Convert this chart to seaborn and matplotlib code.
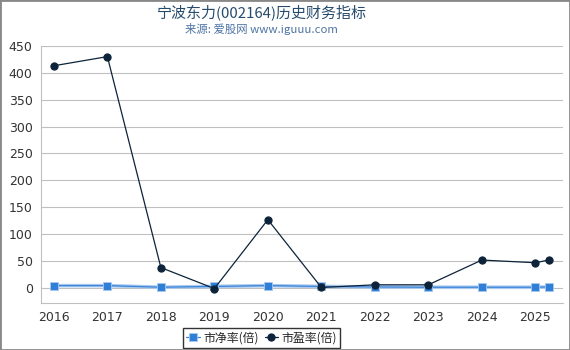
import matplotlib
matplotlib.use("Agg")
import matplotlib.pyplot as plt
import seaborn as sns
import pandas as pd

sns.set_style("white")
plt.rcParams['font.family'] = ['DejaVu Sans', 'Noto Sans CJK SC']

x_pos = [2016, 2017, 2018, 2019, 2020, 2021, 2022, 2023, 2024, 2025, 2025.25]
pb_values = [4.5, 4.5, 1.5, 3.0, 4.5, 3.0, 2.0, 1.5, 1.5, 1.5, 2.0]
pe_values = [413, 430, 38, -1, 127, 1, 6, 6, 52, 47, 52]
year_ticks = [2016, 2017, 2018, 2019, 2020, 2021, 2022, 2023, 2024, 2025]
y_ticks = [0, 50, 100, 150, 200, 250, 300, 350, 400, 450]

df = pd.DataFrame({"x": x_pos, "pb": pb_values, "pe": pe_values})

fig = plt.figure(figsize=(5.7, 3.5), dpi=100)
ax = fig.add_axes([0.072, 0.134, 0.916, 0.735])

sns.lineplot(data=df, x="x", y="pb", ax=ax, color="#a9c9ef", lw=2.6, zorder=2)
sns.lineplot(data=df, x="x", y="pb", ax=ax, color="#3a84d9", lw=0.9, marker="s",
             markersize=5.2, markeredgecolor="#a9c9ef", markeredgewidth=0.6,
             markerfacecolor="#2f7ed8", label="市净率(倍)", zorder=3)
sns.lineplot(data=df, x="x", y="pe", ax=ax, color="#0d233a", lw=0.9, marker="o",
             markersize=5.2, markeredgecolor="#0d233a", label="市盈率(倍)", zorder=4)

ax.set_xlim(2015.76, 2025.52)
ax.set_ylim(-28, 450)
ax.set_xticks(year_ticks)
ax.set_xticklabels([str(y) for y in year_ticks])
ax.set_yticks(y_ticks)
ax.set_xlabel("")
ax.set_ylabel("")
ax.grid(axis="y", color="#c0c0c0", lw=0.8)
ax.set_axisbelow(True)
for s in ["top", "right"]:
    ax.spines[s].set_visible(False)
for s in ["left", "bottom"]:
    ax.spines[s].set_color("#c0c0c0")
    ax.spines[s].set_linewidth(0.8)
ax.tick_params(axis="both", labelsize=9, colors="#333333", length=4, width=0.8)
ax.tick_params(axis="x", color="#c0c0c0", pad=2)
ax.tick_params(axis="y", color="#c0c0c0", pad=2)

leg = ax.legend(loc="lower center", bbox_to_anchor=(0.459, 0.0), bbox_transform=fig.transFigure,
                ncol=2, frameon=True, prop={"family": ["Noto Sans CJK SC", "DejaVu Sans"], "size": 8.6},
                handlelength=1.1, handletextpad=0.3,
                columnspacing=0.5, borderpad=0.3, borderaxespad=0.15, fancybox=False)
leg.get_frame().set_edgecolor("#000000")
leg.get_frame().set_linewidth(1.0)

fig.text(0.459, 0.965, "宁波东力(002164)历史财务指标", ha="center", va="center",
         fontsize=10.8, color="#274b6d", family=["Noto Sans CJK SC", "DejaVu Sans"])
fig.text(0.459, 0.918, "来源: 爱股网 www.iguuu.com", ha="center", va="center",
         fontsize=8.2, color="#4f74a3", family=["Noto Sans CJK SC", "DejaVu Sans"])

border = plt.Rectangle((0, 0), 1, 1, transform=fig.transFigure, fill=False,
                       edgecolor="#888888", lw=2)
fig.patches.append(border)

fig.savefig("out.png", dpi=100)
